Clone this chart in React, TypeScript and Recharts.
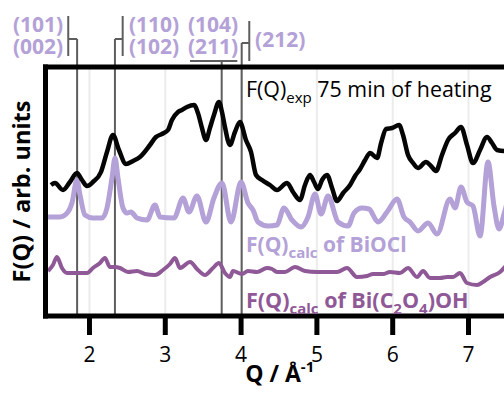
import React from 'react';
import { LineChart, Line, XAxis, YAxis, CartesianGrid, ReferenceLine, ReferenceDot } from 'recharts';

const FONT = '"Open Sans", "DejaVu Sans", sans-serif';
const LAVENDER = '#b3a1d7';
const PLUM = '#8f5896';
const MARK = '#5e5e5e';

// experimental F(Q), 75 min of heating
const expQ = [
  1.492, 1.545, 1.65, 1.743, 1.835, 1.901, 1.967, 2.046, 2.152, 2.231,
  2.31, 2.389, 2.482, 2.574, 2.666, 2.798, 2.877, 2.956, 3.036, 3.088,
  3.168, 3.22, 3.286, 3.379, 3.431, 3.484, 3.537, 3.589, 3.642, 3.708,
  3.748, 3.787, 3.853, 3.919, 3.985, 4.064, 4.131, 4.197, 4.276, 4.381,
  4.474, 4.606, 4.685, 4.777, 4.843, 4.909, 4.962, 5.015, 5.068, 5.134,
  5.2, 5.266, 5.346, 5.438, 5.504, 5.57, 5.636, 5.702, 5.794, 5.847,
  5.913, 5.992, 6.084, 6.136, 6.202, 6.268, 6.334, 6.439, 6.505, 6.571,
  6.65, 6.73, 6.822, 6.901, 6.98, 7.059, 7.152, 7.244, 7.31, 7.376,
  7.468, 7.53,
];
const expF = [
  13.1, 13.3, 12.6, 13.4, 14.3, 13.6, 13.0, 13.4, 14.4, 16.4,
  18.1, 16.6, 15.2, 15.5, 15.9, 17.1, 17.9, 18.2, 18.6, 19.6,
  20.4, 20.6, 20.9, 21.1, 20.3, 18.8, 17.6, 18.8, 20.1, 21.4,
  20.4, 18.9, 17.1, 18.4, 19.4, 17.6, 16.4, 14.1, 13.6, 13.1,
  12.6, 13.3, 12.4, 11.6, 13.1, 14.1, 13.4, 12.7, 13.6, 14.1,
  12.8, 11.5, 12.3, 13.1, 14.0, 14.7, 15.6, 16.3, 15.8, 17.3,
  18.7, 18.8, 19.1, 18.1, 16.1, 15.3, 14.8, 15.4, 15.0, 14.5,
  16.1, 17.6, 18.3, 18.9, 17.1, 15.3, 16.6, 17.9, 17.3, 16.6,
  16.5, 16.6,
];

// calculated F(Q) of BiOCl
const biocQ = [
  1.453, 1.611, 1.716, 1.769, 1.835, 1.875, 1.941, 2.046, 2.165, 2.231,
  2.297, 2.337, 2.376, 2.442, 2.495, 2.547, 2.627, 2.759, 2.864, 2.93,
  3.115, 3.234, 3.313, 3.418, 3.537, 3.642, 3.748, 3.867, 3.999, 4.091,
  4.157, 4.223, 4.355, 4.474, 4.566, 4.672, 4.791, 4.883, 4.975, 5.055,
  5.147, 5.279, 5.411, 5.49, 5.595, 5.687, 5.806, 5.925, 6.057, 6.149,
  6.228, 6.334, 6.466, 6.585, 6.756, 6.822, 6.901, 6.98, 7.059, 7.152,
  7.257, 7.336, 7.402, 7.468, 7.53,
];
const biocF = [
  9.9, 9.9, 10.4, 11.3, 13.6, 12.1, 10.1, 9.8, 9.8, 10.8,
  13.8, 15.8, 13.8, 10.8, 10.3, 10.4, 9.8, 9.6, 11.1, 9.9,
  9.8, 11.8, 10.4, 12.0, 9.4, 11.8, 13.3, 9.4, 13.4, 11.3,
  10.6, 9.4, 9.0, 9.1, 10.8, 9.6, 8.9, 9.9, 12.2, 10.2,
  12.0, 9.4, 9.0, 10.3, 10.8, 10.7, 9.4, 10.4, 11.7, 9.9,
  9.4, 8.5, 9.3, 8.2, 11.7, 10.8, 12.9, 11.4, 11.0, 8.0,
  15.4, 11.0, 8.7, 10.2, 12.0,
];

// calculated F(Q) of Bi(C2O4)OH
const oxQ = [
  1.453, 1.518, 1.571, 1.637, 1.703, 1.835, 1.967, 2.046, 2.139, 2.204,
  2.27, 2.337, 2.402, 2.508, 2.627, 2.732, 2.864, 2.97, 3.062, 3.128,
  3.194, 3.326, 3.431, 3.524, 3.629, 3.708, 3.787, 3.853, 3.893, 4.012,
  4.091, 4.21, 4.342, 4.408, 4.474, 4.579, 4.711, 4.843, 5.002, 5.134,
  5.266, 5.397, 5.529, 5.661, 5.741, 5.873, 5.964, 6.096, 6.202, 6.321,
  6.4, 6.492, 6.624, 6.716, 6.795, 6.888, 6.98, 7.112, 7.191, 7.284,
  7.416, 7.468, 7.53,
];
const oxF = [
  4.5, 5.1, 5.9, 4.8, 4.3, 4.3, 4.3, 4.8, 5.3, 5.8,
  4.9, 4.9, 4.8, 4.4, 4.5, 4.2, 4.1, 4.6, 5.2, 5.8,
  4.8, 5.4, 4.6, 4.1, 4.8, 5.3, 4.3, 3.9, 4.5, 4.2,
  4.5, 4.4, 4.8, 4.7, 4.4, 4.4, 4.9, 4.5, 4.4, 4.4,
  4.4, 4.8, 3.9, 4.0, 4.2, 4.2, 4.4, 4.3, 4.8, 3.9,
  4.5, 3.8, 3.8, 3.9, 3.9, 4.3, 3.3, 3.1, 3.4, 3.9,
  4.4, 4.8, 5.3,
];

const xTicks = [2, 3, 4, 5, 6, 7];

// reflection positions and how high each marker rises into the bracket area
const peakQ = [1.837, 2.336, 3.744, 4.008];
const peakTop = [27.7, 27.7, 25.5, 27.3];

// bracket segments above the frame
const brackets = [
  [[1.72, 26.0], [1.72, 30.0]],
  [[1.72, 27.7], [1.837, 27.7]],
  [[2.438, 26.0], [2.438, 30.0]],
  [[2.336, 27.7], [2.438, 27.7]],
  [[3.326, 25.5], [3.95, 25.5]],
  [[4.108, 25.5], [4.108, 29.5]],
  [[4.008, 27.3], [4.108, 27.3]],
];

const hklText = ['(101)', '(002)', '(110)', '(102)', '(104)', '(211)', '(212)'];
const hklAt = [
  [1.654, 28.45, 'end'],
  [1.654, 26.2, 'end'],
  [2.521, 28.45, 'start'],
  [2.521, 26.2, 'start'],
  [3.299, 28.45, 'start'],
  [3.299, 26.2, 'start'],
  [4.184, 26.95, 'start'],
];

const toRows = (q: number[], f: number[]) => q.map((x, i) => ({ q: x, f: f[i] }));

const AnnotText = ({ viewBox, anchor = 'start', fill, weight = 700, size = 21, children }: any) => (
  <text
    x={viewBox.x}
    y={viewBox.y}
    textAnchor={anchor}
    fill={fill}
    fontFamily={FONT}
    fontWeight={weight}
    fontSize={size}
  >
    {children}
  </text>
);

const XLabel = ({ viewBox }: any) => (
  <text
    x={viewBox.x + viewBox.width / 2}
    y={viewBox.y + 66}
    textAnchor="middle"
    fontFamily={FONT}
    fontWeight={700}
    fontSize={23}
    fill="#000"
  >
    Q / Å<tspan fontSize={15} dy={-10}>-1</tspan>
  </text>
);

const YLabel = ({ viewBox }: any) => {
  const cx = 30;
  const cy = viewBox.y + viewBox.height / 2;
  return (
    <text
      x={cx}
      y={cy}
      transform={`rotate(-90, ${cx}, ${cy})`}
      textAnchor="middle"
      fontFamily={FONT}
      fontWeight={700}
      fontSize={23.5}
      fill="#000"
    >
      F(Q) / arb. units
    </text>
  );
};

export default function App() {
  const exp = toRows(expQ, expF);
  const bioc = toRows(biocQ, biocF);
  const ox = toRows(oxQ, oxF);

  return (
    <div style={{ position: 'absolute', left: 0, top: 0, width: 504, height: 394, overflow: 'hidden', background: '#fff' }}>
      <LineChart width={514} height={394} margin={{ top: 67, right: 0, bottom: 0, left: 0 }}>
        <CartesianGrid horizontal={false} stroke="#ececec" strokeWidth={2} />
        <XAxis
          type="number"
          dataKey="q"
          domain={[1.42, 7.6]}
          ticks={xTicks}
          allowDataOverflow
          height={78}
          axisLine={{ stroke: '#000', strokeWidth: 5, strokeLinecap: 'square' }}
          tickLine={{ stroke: '#000', strokeWidth: 5 }}
          tickSize={19}
          tickMargin={12}
          tick={{ fill: '#000', fontSize: 21, fontFamily: FONT }}
          label={<XLabel />}
        />
        <YAxis
          type="number"
          domain={[0, 24.9]}
          allowDataOverflow
          width={45.5}
          tick={false}
          tickLine={false}
          axisLine={{ stroke: '#000', strokeWidth: 5, strokeLinecap: 'square' }}
          label={<YLabel />}
        />

        {peakQ.map((q, i) => (
          <ReferenceLine
            key={'pk' + i}
            segment={[{ x: q, y: 0 }, { x: q, y: peakTop[i] }]}
            stroke={MARK}
            strokeWidth={2}
            ifOverflow="visible"
          />
        ))}
        {brackets.map((s, i) => (
          <ReferenceLine
            key={'br' + i}
            segment={[{ x: s[0][0], y: s[0][1] }, { x: s[1][0], y: s[1][1] }]}
            stroke={MARK}
            strokeWidth={2}
            ifOverflow="visible"
          />
        ))}
        <ReferenceLine y={24.9} stroke="#000" strokeWidth={5} strokeLinecap="square" ifOverflow="visible" />

        <Line data={ox} dataKey="f" type="monotone" stroke={PLUM} strokeWidth={4} dot={false} isAnimationActive={false} />
        <Line data={bioc} dataKey="f" type="monotone" stroke={LAVENDER} strokeWidth={5} dot={false} isAnimationActive={false} />
        <Line data={exp} dataKey="f" type="monotone" stroke="#050505" strokeWidth={4.5} dot={false} isAnimationActive={false} />

        {hklText.map((t, i) => (
          <ReferenceDot
            key={'hkl' + i}
            x={hklAt[i][0] as number}
            y={hklAt[i][1] as number}
            r={0}
            ifOverflow="visible"
            label={<AnnotText anchor={hklAt[i][2]} fill={LAVENDER}>{t}</AnnotText>}
          />
        ))}

        <ReferenceDot
          x={4.065}
          y={21.9}
          r={0}
          ifOverflow="visible"
          label={
            <AnnotText fill="#000" weight={400} size={21.4}>
              <tspan>F(Q)</tspan>
              <tspan fontSize={15} dy={6}>exp</tspan>
              <tspan dy={-6}> 75 min of heating</tspan>
            </AnnotText>
          }
        />
        <ReferenceDot
          x={4.065}
          y={6.4}
          r={0}
          ifOverflow="visible"
          label={
            <AnnotText fill={LAVENDER}>
              <tspan>F(Q)</tspan>
              <tspan fontSize={15} dy={6}>calc</tspan>
              <tspan dy={-6}> of BiOCl</tspan>
            </AnnotText>
          }
        />
        <ReferenceDot
          x={4.065}
          y={0.8}
          r={0}
          ifOverflow="visible"
          label={
            <AnnotText fill={PLUM} size={21.5}>
              <tspan>F(Q)</tspan>
              <tspan fontSize={15} dy={6}>calc</tspan>
              <tspan dy={-6}> of Bi(C</tspan>
              <tspan fontSize={15} dy={6}>2</tspan>
              <tspan dy={-6}>O</tspan>
              <tspan fontSize={15} dy={6}>4</tspan>
              <tspan dy={-6}>)OH</tspan>
            </AnnotText>
          }
        />
      </LineChart>
    </div>
  );
}
